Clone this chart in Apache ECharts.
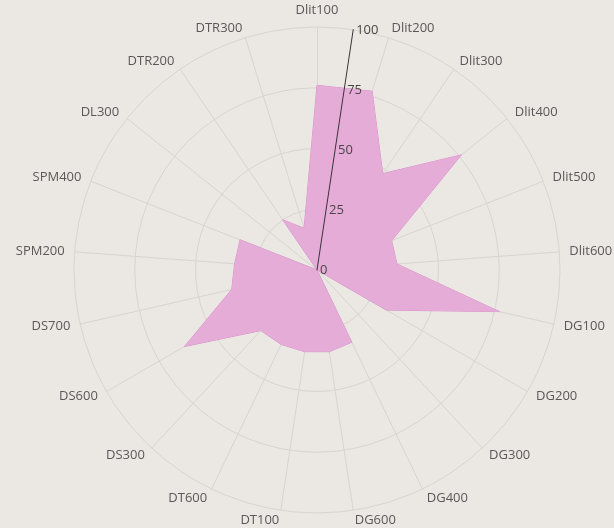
<!DOCTYPE html>
<html><head><meta charset="utf-8">
<script src="https://cdn.jsdelivr.net/npm/echarts@6/dist/echarts.min.js"></script>
<style>html,body{margin:0;padding:0;background:#ebe8e4}#c{width:614px;height:528px}</style>
</head><body><div id="c"></div>
<script>
const categories = ['Dlit100','Dlit200','Dlit300','Dlit400','Dlit500','Dlit600','DG100','DG200','DG300','DG400','DG600','DT100','DT600','DS300','DS600','DS700','SPM200','SPM400','DL300','DTR200','DTR300'];
const values = [76, 77, 48, 76, 33, 33, 77, 33, 0, 33, 34, 34, 34, 34, 63, 36, 34, 34, 0, 25, 18];
const radiusTicks = [0, 25, 50, 75, 100];

const n = categories.length;
const step = 360 / n;
// radar lays indicators counter-clockwise; reorder so they read clockwise
const order = [0].concat(Array.from({length: n - 1}, (_, i) => n - 1 - i));
const indicators = order.map(i => ({name: categories[i], min: 0, max: radiusTicks[radiusTicks.length - 1]}));
const radarValues = order.map(i => values[i]);

const chart = echarts.init(document.getElementById('c'));
chart.setOption({
  backgroundColor: '#ebe8e4',
  radar: {
    center: [317, 270], radius: 243, startAngle: 90, shape: 'circle',
    splitNumber: radiusTicks.length - 1,
    indicator: indicators,
    nameGap: 10,
    axisName: {color: '#5a5856', fontSize: 13, fontFamily: 'Open Sans'},
    splitLine: {lineStyle: {color: '#d8d4d0', width: 1}},
    splitArea: {show: false},
    axisLine: {lineStyle: {color: '#d8d4d0', width: 1}},
    axisTick: {show: false},
    axisLabel: {show: false}
  },
  polar: {center: [317, 270], radius: 243},
  angleAxis: {type: 'value', min: 0, max: 360, startAngle: 90 - step / 2, show: false},
  radiusAxis: {
    min: radiusTicks[0], max: radiusTicks[radiusTicks.length - 1],
    interval: radiusTicks[1] - radiusTicks[0],
    z: 10,
    axisLine: {lineStyle: {color: '#3a3338', width: 1}},
    axisTick: {show: false},
    axisLabel: {color: '#4a4446', fontSize: 13, fontFamily: 'Open Sans', margin: -3, align: 'left'},
    splitLine: {show: false}
  },
  series: [{
    type: 'radar',
    symbol: 'none',
    data: [{value: radarValues}],
    lineStyle: {color: '#d992c9', width: 1},
    areaStyle: {color: '#e5acd8', opacity: 1}
  }]
});
</script></body></html>
